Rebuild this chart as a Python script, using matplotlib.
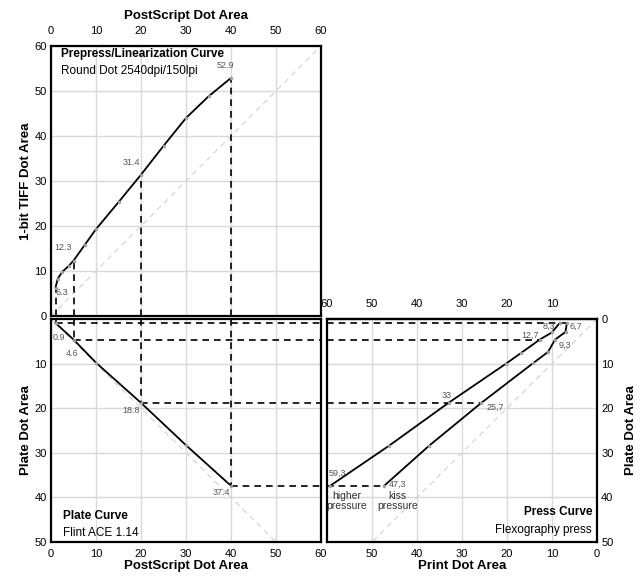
import matplotlib.pyplot as plt

# tracked points (PostScript -> TIFF -> plate -> print)
ps_pts = [1, 5, 20, 40]
tiff_pts = [6.3, 12.3, 31.4, 52.9]
plate_pts = [0.9, 4.6, 18.8, 37.4]
print_high = [8.3, 12.7, 33, 59.3]
print_kiss = [6.7, 9.3, 25.7, 47.3]

# curves
ps_curve = [1, 1.5, 2.5, 4, 5, 7.5, 10, 15, 20, 25, 30, 35, 40]
tiff_curve = [6.3, 8.3, 9.8, 11.2, 12.3, 15.8, 19.3, 25.3, 31.4, 37.8, 44.0, 48.8, 52.9]
ps_plate = [1, 5, 10, 20, 30, 40]
plate_curve = [0.9, 4.6, 9.8, 18.8, 28.3, 37.4]
high_print = [8.3, 10.0, 12.7, 17.0, 20.2, 33, 46.2, 59.3]
high_plate = [0.9, 3.0, 4.6, 7.7, 10, 18.8, 28.4, 37.4]
kiss_print = [6.7, 7.0, 9.3, 10.9, 14.2, 25.7, 37.3, 47.3]
kiss_plate = [0.9, 2.9, 4.6, 7.4, 9.9, 18.8, 28.4, 37.4]

plt.rcParams['font.family'] = ['Liberation Sans', 'DejaVu Sans']

GRID = '#d9d9d9'
VAL = '#555555'
LAB = 9.5     # axis label size
TTL = 8.5     # panel title size
VS = 6.5      # value label size

fig = plt.figure(figsize=(6.4, 5.77), dpi=100)
W, H = 640, 577
ax1 = fig.add_axes([51 / W, (H - 316) / H, 270 / W, 270 / H])
ax2 = fig.add_axes([51 / W, (H - 542) / H, 270 / W, 223 / H])
ax3 = fig.add_axes([327 / W, (H - 542) / H, 270 / W, 223 / H])

for ax in (ax1, ax2, ax3):
    for s in ax.spines.values():
        s.set_linewidth(1.6)
    ax.grid(True, color=GRID, lw=1)
    ax.set_axisbelow(True)
    ax.tick_params(length=0, labelsize=8, pad=3)
    ax.tick_params(axis='x', pad=5)
    ax.plot([0, 60], [0, 60], color='#d0d0d0', lw=0.8, ls=(0, (5, 4)), zorder=1)

# top panel
ax1.set_xlim(0, 60)
ax1.set_ylim(0, 60)
ax1.set_xticks(range(0, 61, 10))
ax1.set_yticks(range(0, 61, 10))
ax1.xaxis.tick_top()
ax1.tick_params(axis='x', pad=7)
ax1.xaxis.set_label_position('top')
ax1.set_xlabel('PostScript Dot Area', fontsize=LAB, fontweight='bold', labelpad=5)
ax1.set_ylabel('1-bit TIFF Dot Area', fontsize=LAB, fontweight='bold', labelpad=2)
ax1.plot(ps_curve, tiff_curve, color='black', lw=1.3, zorder=3)
ax1.plot(ps_curve, tiff_curve, 'o', ms=2.5, color='#a0a0a0', mec='none', zorder=4)
for x, y in zip(ps_pts, tiff_pts):
    ax1.plot([x, x], [0, y], color='black', lw=1.2, ls=(0, (4, 3)), zorder=2)
ax1.text(2.2, 58.3, 'Prepress/Linearization Curve', fontsize=TTL, fontweight='bold', va='center')
ax1.text(2.2, 54.5, 'Round Dot 2540dpi/150lpi', fontsize=TTL, va='center')
ax1.text(2.4, 5.2, '6.3', fontsize=VS, color=VAL, ha='center', va='center')
ax1.text(2.7, 15.2, '12.3', fontsize=VS, color=VAL, ha='center', va='center')
ax1.text(17.9, 34.1, '31.4', fontsize=VS, color=VAL, ha='center', va='center')
ax1.text(38.8, 55.6, '52.9', fontsize=VS, color=VAL, ha='center', va='center')

# plate panel
ax2.set_xlim(0, 60)
ax2.set_ylim(50, 0)
ax2.set_xticks(range(0, 61, 10))
ax2.set_yticks(range(10, 51, 10))
ax2.set_xlabel('PostScript Dot Area', fontsize=LAB, fontweight='bold', labelpad=1)
ax2.set_ylabel('Plate Dot Area', fontsize=LAB, fontweight='bold', labelpad=2)
ax2.plot(ps_plate, plate_curve, color='black', lw=1.3, zorder=3)
ax2.plot(ps_plate, plate_curve, 'o', ms=2.5, color='#a0a0a0', mec='none', zorder=4)
for x, y in zip(ps_pts, plate_pts):
    ax2.plot([x, x], [0, y], color='black', lw=1.2, ls=(0, (4, 3)), zorder=2)
    ax2.plot([x, 60], [y, y], color='black', lw=1.2, ls=(0, (4, 3)), zorder=2)
ax2.text(2.7, 44.2, 'Plate Curve', fontsize=TTL, fontweight='bold', va='center')
ax2.text(2.7, 48.0, 'Flint ACE 1.14', fontsize=TTL, va='center')
ax2.text(1.8, 4.2, '0.9', fontsize=VS, color=VAL, ha='center', va='center')
ax2.text(4.8, 7.7, '4.6', fontsize=VS, color=VAL, ha='center', va='center')
ax2.text(17.8, 20.5, '18.8', fontsize=VS, color=VAL, ha='center', va='center')
ax2.text(37.9, 39.0, '37.4', fontsize=VS, color=VAL, ha='center', va='center')

# press panel
ax3.set_xlim(60, 0)
ax3.set_ylim(50, 0)
ax3.set_xticks(range(0, 51, 10))
ax3.set_yticks(range(0, 51, 10))
ax3.yaxis.tick_right()
ax3.yaxis.set_label_position('right')
ax3.set_xlabel('Print Dot Area', fontsize=LAB, fontweight='bold', labelpad=1)
ax3.set_ylabel('Plate Dot Area', fontsize=LAB, fontweight='bold', labelpad=8.5,
               rotation=90)
top = ax3.secondary_xaxis('top')
top.set_xticks(range(10, 61, 10))
top.tick_params(length=0, labelsize=8, pad=7)
top.spines['top'].set_linewidth(1.6)
ax3.plot(high_print, high_plate, color='black', lw=1.3, zorder=3)
ax3.plot(kiss_print, kiss_plate, color='black', lw=1.3, zorder=3)
ax3.plot(high_print, high_plate, 'o', ms=2.5, color='#a0a0a0', mec='none', zorder=4)
ax3.plot(kiss_print, kiss_plate, 'o', ms=2.5, color='#a0a0a0', mec='none', zorder=4)
ends = [print_kiss[0], print_high[1], print_kiss[2], print_kiss[3]]
for y, e in zip(plate_pts, ends):
    ax3.plot([60, e], [y, y], color='black', lw=1.2, ls=(0, (4, 3)), zorder=2)
ax3.text(1.1, 43.3, 'Press Curve', fontsize=TTL, fontweight='bold', ha='right', va='center')
ax3.text(1.1, 47.2, 'Flexography press', fontsize=TTL, ha='right', va='center')
ax3.text(10.6, 1.6, '8,3', fontsize=VS, color=VAL, ha='center', va='center')
ax3.text(4.6, 1.6, '6,7', fontsize=VS, color=VAL, ha='center', va='center')
ax3.text(14.8, 3.6, '12,7', fontsize=VS, color=VAL, ha='center', va='center')
ax3.text(7.1, 6.0, '9,3', fontsize=VS, color=VAL, ha='center', va='center')
ax3.text(33.5, 17.1, '33', fontsize=VS, color=VAL, ha='center', va='center')
ax3.text(22.6, 19.8, '25,7', fontsize=VS, color=VAL, ha='center', va='center')
ax3.text(57.6, 34.6, '59,3', fontsize=VS, color=VAL, ha='center', va='center')
ax3.text(44.3, 37.1, '47,3', fontsize=VS, color=VAL, ha='center', va='center')
ax3.text(55.6, 40.8, 'higher\npressure', fontsize=7.5, color='#333333', ha='center',
         va='center', linespacing=0.95)
ax3.text(44.4, 40.8, 'kiss\npressure', fontsize=7.5, color='#333333', ha='center',
         va='center', linespacing=0.95)

fig.savefig('out.png', dpi=100)
